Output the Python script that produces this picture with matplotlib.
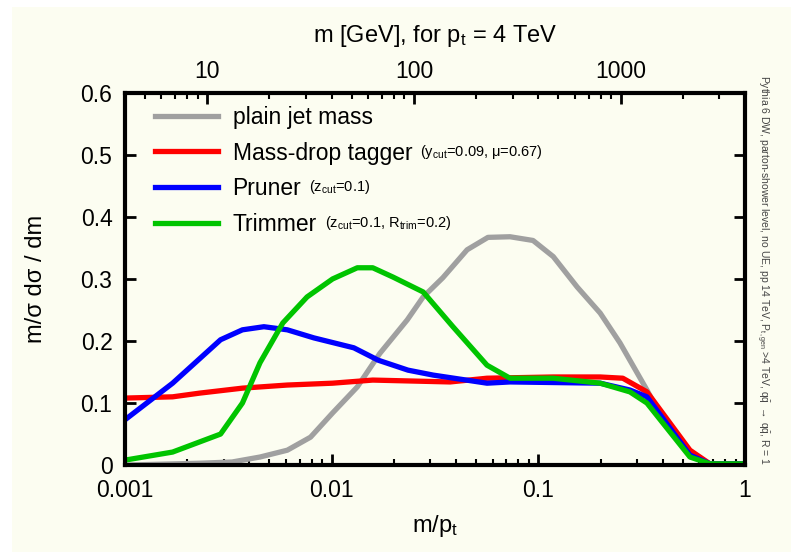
import matplotlib
matplotlib.use('Agg')
import matplotlib.pyplot as plt
from matplotlib.patches import Rectangle

# m/pt values and m/sigma dsigma/dm
plain_x = [0.001, 0.0023, 0.0033, 0.0045, 0.0061, 0.0079, 0.0101, 0.0133, 0.0171,
           0.0232, 0.0277, 0.0345, 0.0452, 0.057, 0.0729, 0.0942, 0.118, 0.154,
           0.199, 0.248, 0.335, 0.419, 0.541, 0.676, 1.0]
plain_y = [0.0, 0.003, 0.005, 0.013, 0.024, 0.045, 0.084, 0.126, 0.18,
           0.234, 0.271, 0.302, 0.347, 0.367, 0.368, 0.362, 0.336, 0.287,
           0.245, 0.197, 0.121, 0.061, 0.019, 0.002, 0.002]

mdt_x = [0.001, 0.0017, 0.0023, 0.0037, 0.0061, 0.0101, 0.0158, 0.0374, 0.0564,
         0.118, 0.199, 0.256, 0.335, 0.541, 0.676, 1.0]
mdt_y = [0.108, 0.11, 0.116, 0.124, 0.129, 0.132, 0.137, 0.134, 0.140,
         0.142, 0.142, 0.140, 0.118, 0.024, 0.002, 0.002]

pruner_x = [0.001, 0.0017, 0.0029, 0.0037, 0.0047, 0.0061, 0.0082, 0.0128, 0.0168,
            0.0234, 0.031, 0.0564, 0.0729, 0.199, 0.277, 0.335, 0.541, 0.676, 1.0]
pruner_y = [0.073, 0.132, 0.202, 0.218, 0.223, 0.218, 0.205, 0.189, 0.169,
            0.153, 0.145, 0.132, 0.134, 0.132, 0.121, 0.11, 0.016, 0.002, 0.002]

trim_x = [0.001, 0.0017, 0.0029, 0.0037, 0.0045, 0.0058, 0.0076, 0.0101, 0.0133,
          0.0158, 0.0198, 0.0277, 0.0386, 0.0564, 0.0729, 0.118, 0.199, 0.277,
          0.335, 0.541, 0.676, 1.0]
trim_y = [0.008, 0.021, 0.05, 0.10, 0.165, 0.229, 0.271, 0.30, 0.318,
          0.318, 0.303, 0.279, 0.223, 0.161, 0.140, 0.140, 0.132, 0.118,
          0.10, 0.013, 0.002, 0.002]

names = ['plain jet mass', 'Mass-drop tagger', 'Pruner', 'Trimmer']
params = ['', r'(y$_{\rm cut}$=0.09, μ=0.67)', r'(z$_{\rm cut}$=0.1)',
          r'(z$_{\rm cut}$=0.1, R$_{\rm trim}$=0.2)']
colors = ['#a0a0a0', '#ff0000', '#0000ff', '#00c400']

xticks = [0.001, 0.01, 0.1, 1]
xticklabels = ['0.001', '0.01', '0.1', '1']
yticks = [0, 0.1, 0.2, 0.3, 0.4, 0.5, 0.6]
yticklabels = ['0', '0.1', '0.2', '0.3', '0.4', '0.5', '0.6']
pt = 4000.0

plt.rcParams['font.family'] = ['Liberation Sans', 'DejaVu Sans']
plt.rcParams['mathtext.fontset'] = 'custom'
plt.rcParams['mathtext.rm'] = 'Liberation Sans'
plt.rcParams['mathtext.it'] = 'Liberation Sans:italic'

bg = '#fcfdf1'
fig = plt.figure(figsize=(7.91, 5.59), dpi=100, facecolor='white')
fig.patches.append(Rectangle((12 / 791, 7 / 559), 1.0, 545 / 559, transform=fig.transFigure,
                             facecolor=bg, edgecolor='none', zorder=-10))
ax = fig.add_axes([0.158, 0.168, 0.784, 0.666])
ax.set_facecolor(bg)

lw = 3.8
ax.plot(plain_x, plain_y, color=colors[0], lw=lw, label=names[0])
ax.plot(mdt_x, mdt_y, color=colors[1], lw=lw, label=names[1])
ax.plot(pruner_x, pruner_y, color=colors[2], lw=lw, label=names[2])
ax.plot(trim_x, trim_y, color=colors[3], lw=lw, label=names[3])

ax.set_xscale('log')
ax.set_xlim(0.001, 1)
ax.set_ylim(0, 0.6)
ax.set_xticks(xticks)
ax.set_xticklabels(xticklabels)
ax.set_yticks(yticks)
ax.set_yticklabels(yticklabels)
ax.tick_params(which='both', direction='in', top=False, right=True, labelsize=16.5)
ax.tick_params(which='major', length=8, width=2)
ax.tick_params(which='minor', length=4, width=1.5)
ax.tick_params(axis='x', pad=10)
ax.tick_params(axis='y', pad=9)
for s in ax.spines.values():
    s.set_linewidth(3)

ax.set_xlabel(r'm/p$_{\rm t}$', fontsize=17, labelpad=8)
ax.set_ylabel('m/σ dσ / dm', fontsize=17, labelpad=24)

top = ax.secondary_xaxis('top', functions=(lambda x: x * pt, lambda m: m / pt))
top.set_xticks([10, 100, 1000])
top.set_xticklabels(['10', '100', '1000'])
top.tick_params(which='both', direction='in', labelsize=16.5)
top.tick_params(which='major', length=8, width=2, pad=7)
top.tick_params(which='minor', length=4, width=1.5)
top.set_xlabel(r'm [GeV], for p$_{\rm t}$ = 4 TeV', fontsize=17, labelpad=13)

leg = ax.legend(loc='upper left', bbox_to_anchor=(0.033, 0.99), frameon=False,
                fontsize=16.5, handlelength=2.75, handletextpad=0.65,
                labelspacing=0.56, borderaxespad=0.0)

# small parameter notes after the legend labels
fig.canvas.draw()
for txt, p in zip(leg.get_texts(), params):
    if p:
        bb = txt.get_window_extent()
        fig.text((bb.x1 + 8) / fig.bbox.width, (bb.y0 + 4) / fig.bbox.height, p,
                 fontsize=10.5, va='bottom', ha='left')

fig.text(0.963, 0.517,
         r'Pythia 6 DW, parton-shower level, no UE, pp 14 TeV, P$_{\rm t,gen}$ >4 TeV, '
         r'q$\bar{\rm q}$ $\rightarrow$ q$\bar{\rm q}$, R = 1',
         rotation=-90, fontsize=7.5, color='#444444', ha='center', va='center')

fig.savefig('out.png', dpi=100, facecolor=fig.get_facecolor())
